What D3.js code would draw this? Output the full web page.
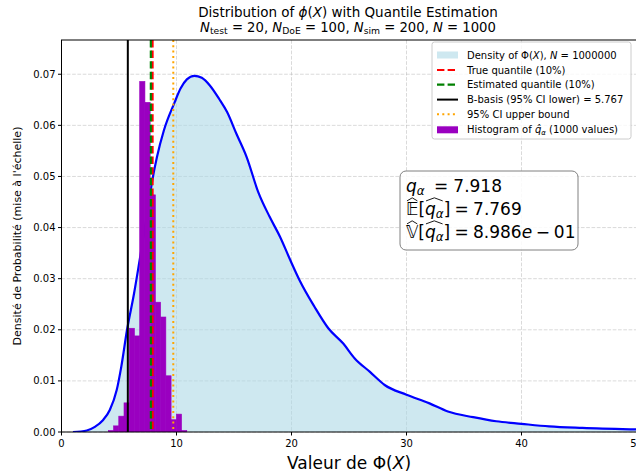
<!DOCTYPE html>
<html><head><meta charset="utf-8">
<script src="https://cdn.jsdelivr.net/npm/d3@7"></script>
<style>body{margin:0;background:#fff} text{font-family:"DejaVu Sans",sans-serif;fill:#000;white-space:pre}</style>
</head><body><svg id="c" width="636" height="475"></svg>
<script>
// ---- data ----
const densityX = [1.0, 2.2, 2.9, 3.6, 4.2, 4.8, 5.2, 5.7, 6.3, 6.8, 7.4, 7.9, 8.3, 8.9, 9.8, 10.35, 10.9, 11.55, 12.2, 12.9, 13.7, 14.4, 15.2, 16.1, 17.1, 18.1, 19.0, 19.9, 20.7, 22.0, 23.2, 24.5, 25.5, 26.8, 28.1, 30.0, 32.0, 33.6, 35.8, 37.8, 40.0, 42.4, 45.3, 50.0, 52.0];
const densityY = [0.0, 0.0003, 0.001, 0.0023, 0.0043, 0.0082, 0.0128, 0.0200, 0.0270, 0.0337, 0.0420, 0.0493, 0.0538, 0.0590, 0.0643, 0.0672, 0.0690, 0.0697, 0.0693, 0.0678, 0.0652, 0.0626, 0.0584, 0.0538, 0.0470, 0.0421, 0.0382, 0.0336, 0.0297, 0.0245, 0.0203, 0.0173, 0.0144, 0.0118, 0.0092, 0.0073, 0.0056, 0.0040, 0.0029, 0.0021, 0.0016, 0.0011, 0.0008, 0.0005, 0.0004];
const binEdges = [4.07, 4.525, 4.98, 5.435, 5.89, 6.345, 6.80, 7.255, 7.71, 8.165, 8.62, 9.075, 9.53, 9.985, 10.44, 10.895];
const binHeights = [0.0003, 0.0012, 0.0031, 0.0057, 0.0203, 0.0188, 0.0686, 0.0645, 0.0464, 0.0254, 0.0225, 0.0110, 0.0024, 0.0035, 0.0003];
const xTicks = [0, 10, 20, 30, 40, 50];
const yTicks = [0, 0.01, 0.02, 0.03, 0.04, 0.05, 0.06, 0.07];
const bBasis = 5.767, trueQ = 7.918, estQ = 7.769, ciUpper = 9.72;

// ---- layout ----
const L = 61.5, R = 636.5, T = 40, B = 432;
const svg = d3.select('#c');
const x = d3.scaleLinear().domain([0, 50]).range([L, R]);
const y = d3.scaleLinear().domain([0, 0.0767]).range([B, T]);

svg.append('defs').append('clipPath').attr('id', 'clip')
  .append('rect').attr('x', L).attr('y', T).attr('width', R - L).attr('height', B - T);

// grid
const grid = svg.append('g').attr('stroke', '#b0b0b0').attr('stroke-opacity', 0.6)
  .attr('stroke-dasharray', '3.7,1.6').attr('stroke-width', 0.8);
xTicks.forEach(t => grid.append('line').attr('x1', x(t)).attr('x2', x(t)).attr('y1', T).attr('y2', B));
yTicks.forEach(t => grid.append('line').attr('x1', L).attr('x2', R).attr('y1', y(t)).attr('y2', y(t)));

const plot = svg.append('g').attr('clip-path', 'url(#clip)');
const pts = densityX.map((d, i) => [d, densityY[i]]);
plot.append('path').datum(pts)
  .attr('d', d3.area().x(d => x(d[0])).y0(y(0)).y1(d => y(d[1])).curve(d3.curveMonotoneX))
  .attr('fill', '#add8e6').attr('fill-opacity', 0.6);
plot.append('path').datum(pts)
  .attr('d', d3.line().x(d => x(d[0])).y(d => y(d[1])).curve(d3.curveMonotoneX))
  .attr('fill', 'none').attr('stroke', 'blue').attr('stroke-width', 2.2);

// histogram
plot.append('g').selectAll('rect').data(binHeights).join('rect')
  .attr('x', (d, i) => x(binEdges[i]))
  .attr('width', (d, i) => x(binEdges[i + 1]) - x(binEdges[i]))
  .attr('y', d => y(d)).attr('height', d => y(0) - y(d))
  .attr('fill', '#9a00c0').attr('stroke', '#9a00c0').attr('stroke-width', 0.6);

// vertical lines
function vline(v, color, dash, w) {
  plot.append('line').attr('x1', x(v)).attr('x2', x(v)).attr('y1', T).attr('y2', B)
    .attr('stroke', color).attr('stroke-width', w).attr('stroke-dasharray', dash);
}
vline(trueQ, 'red', '7.4,3.2', 2.2);
vline(estQ, 'green', '7.4,3.2', 2.2);
vline(bBasis, 'black', null, 2);
vline(ciUpper, 'orange', '2,3.3', 2);

// spines
svg.append('rect').attr('x', L).attr('y', T).attr('width', R - L).attr('height', B - T)
  .attr('fill', 'none').attr('stroke', '#000').attr('stroke-width', 1);

// ticks
const ax = svg.append('g');
xTicks.forEach(t => {
  ax.append('line').attr('x1', x(t)).attr('x2', x(t)).attr('y1', B).attr('y2', B + 3.5).attr('stroke', '#000');
  ax.append('text').attr('x', x(t)).attr('y', B + 15).attr('text-anchor', 'middle').attr('font-size', 10).text(t);
});
yTicks.forEach(t => {
  ax.append('line').attr('x1', L - 3.5).attr('x2', L).attr('y1', y(t)).attr('y2', y(t)).attr('stroke', '#000');
  ax.append('text').attr('x', L - 6).attr('y', y(t) + 3.6).attr('text-anchor', 'end').attr('font-size', 10).text(d3.format('.2f')(t));
});

// rich text helper using tspans
function rich(sel, parts) {
  parts.forEach(p => {
    const ts = sel.append('tspan').text(p.t);
    if (p.i) ts.attr('font-style', 'italic');
    if (p.sub) ts.attr('font-size', '70%').attr('baseline-shift', '-22%');
  });
  return sel;
}

// titles
rich(svg.append('text').attr('x', (L + R) / 2 - 1).attr('y', 17).attr('text-anchor', 'middle').attr('font-size', 13.5),
  [{t: 'Distribution of '}, {t: 'ϕ', i: 1}, {t: '('}, {t: 'X', i: 1}, {t: ') with Quantile Estimation'}]);
rich(svg.append('text').attr('x', (L + R) / 2 - 1).attr('y', 32).attr('text-anchor', 'middle').attr('font-size', 13.2),
  [{t: 'N', i: 1}, {t: 'test', sub: 1}, {t: ' = 20, '}, {t: 'N', i: 1}, {t: 'DoE', sub: 1}, {t: ' = 100, '},
   {t: 'N', i: 1}, {t: 'sim', sub: 1}, {t: ' = 200, '}, {t: 'N', i: 1}, {t: ' = 1000'}]);

// axis labels
rich(svg.append('text').attr('x', (L + R) / 2).attr('y', 469).attr('text-anchor', 'middle').attr('font-size', 17),
  [{t: 'Valeur de Φ('}, {t: 'X', i: 1}, {t: ')'}]);
svg.append('text').attr('transform', `translate(21,${(T + B) / 2}) rotate(-90)`)
  .attr('text-anchor', 'middle').attr('font-size', 11).text("Densité de Probabilité (mise à l'échelle)");

// legend
const lg = svg.append('g');
lg.append('rect').attr('x', 432).attr('y', 42).attr('width', 199).attr('height', 97).attr('rx', 2.5)
  .attr('fill', '#fff').attr('fill-opacity', 0.8).attr('stroke', '#cccccc');
const rows = [55, 70, 84.7, 99.6, 114.3, 129.8];
const hx0 = 437, hx1 = 458, tx = 467;
lg.append('rect').attr('x', hx0).attr('y', rows[0] - 3.5).attr('width', hx1 - hx0).attr('height', 7).attr('fill', '#add8e6').attr('fill-opacity', 0.6);
[[1, 'red', '7.4,3.2', 2.2], [2, 'green', '7.4,3.2', 2.2], [3, 'black', null, 2], [4, 'orange', '2,3.3', 2]].forEach(([r, c, d, w]) => {
  lg.append('line').attr('x1', hx0).attr('x2', hx1).attr('y1', rows[r]).attr('y2', rows[r]).attr('stroke', c).attr('stroke-width', w).attr('stroke-dasharray', d);
});
lg.append('rect').attr('x', hx0).attr('y', rows[5] - 3.5).attr('width', hx1 - hx0).attr('height', 7).attr('fill', '#9a00c0');
const legTexts = [
  [{t: 'Density of Φ('}, {t: 'X', i: 1}, {t: '), '}, {t: 'N', i: 1}, {t: ' = 1000000'}],
  [{t: 'True quantile (10%)'}],
  [{t: 'Estimated quantile (10%)'}],
  [{t: 'B-basis (95% CI lower) = 5.767'}],
  [{t: '95% CI upper bound'}],
  [{t: 'Histogram of '}, {t: 'q̂', i: 1}, {t: 'α', i: 1, sub: 1}, {t: ' (1000 values)'}]
];
legTexts.forEach((p, i) => rich(lg.append('text').attr('x', tx).attr('y', rows[i] + 3.6).attr('font-size', 10), p));

// statistics box
const sb = svg.append('g');
sb.append('rect').attr('x', 400).attr('y', 171).attr('width', 178).attr('height', 79).attr('rx', 6)
  .attr('fill', '#fff').attr('fill-opacity', 0.85).attr('stroke', '#808080').attr('stroke-width', 1);
function mathLine(g, x0, yb, parts, size) {
  let cx = x0; const hats = {};
  parts.forEach(p => {
    cx += (p.pre || 0) * size;
    const fs = p.sub ? size * 0.7 : size;
    const t = g.append('text').attr('x', cx).attr('y', yb + (p.sub ? size * 0.2 : 0))
      .attr('font-size', fs).attr('font-style', p.i ? 'italic' : 'normal').text(p.t);
    const w = t.node().getComputedTextLength();
    if (p.hat) { const h = hats[p.hat] || (hats[p.hat] = [cx, cx + w]); h[1] = cx + w; }
    cx += w;
  });
  Object.values(hats).forEach(([a, b]) => {
    g.append('path').attr('d', `M${a + 1},${yb - size * 0.8} L${(a + b) / 2},${yb - size * 0.98} L${b - 1},${yb - size * 0.8}`)
      .attr('fill', 'none').attr('stroke', '#000').attr('stroke-width', 0.9);
  });
}
const fs = 17, bx = 406;
mathLine(sb, bx, 192, [{t: 'q', i: 1}, {t: 'α', i: 1, sub: 1}, {t: '=', pre: 0.55}, {t: '7.918', pre: 0.3}], fs);
mathLine(sb, bx, 214.5, [{t: '𝔼', hat: 'a'}, {t: '['}, {t: 'q', i: 1, hat: 'b'}, {t: 'α', i: 1, sub: 1, hat: 'b'}, {t: ']'}, {t: '=', pre: 0.25}, {t: '7.769', pre: 0.25}], fs);
mathLine(sb, bx, 237.5, [{t: '𝕍', hat: 'a'}, {t: '['}, {t: 'q', i: 1, hat: 'b'}, {t: 'α', i: 1, sub: 1, hat: 'b'}, {t: ']'}, {t: '=', pre: 0.25}, {t: '8.986', pre: 0.25}, {t: 'e', i: 1}, {t: '−', pre: 0.22}, {t: '01', pre: 0.22}], fs);
</script>
</body></html>
